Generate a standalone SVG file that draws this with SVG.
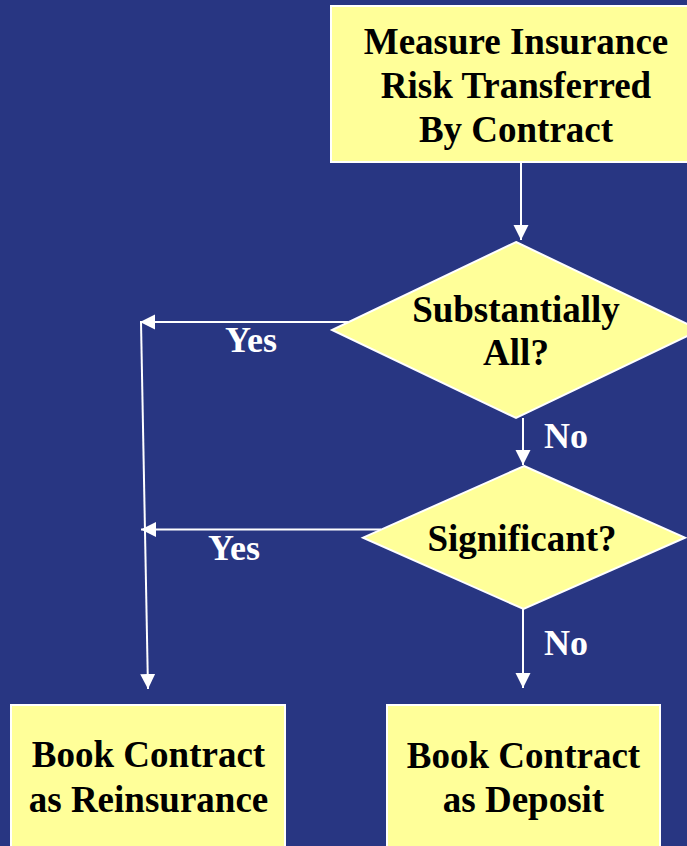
<svg xmlns="http://www.w3.org/2000/svg" width="687" height="846" viewBox="0 0 687 846">
  <style>
    .node { fill: #FFFF99; stroke: #FFFFFF; stroke-width: 2; }
    .ntext { font-family: "Liberation Serif", "Times New Roman", serif; font-weight: bold; font-size: 37px; fill: #000000; text-anchor: middle; }
    .label { font-family: "Liberation Serif", "Times New Roman", serif; font-weight: bold; font-size: 36px; fill: #FFFFFF; }
    .conn { stroke: #FFFFFF; stroke-width: 2; fill: none; marker-end: url(#arrow); }
  </style>
  <defs>
    <marker id="arrow" markerUnits="userSpaceOnUse" markerWidth="16" markerHeight="16" refX="15" refY="7.5" orient="auto">
      <path d="M0,0 L15,7.5 L0,15 z" fill="#FFFFFF"/>
    </marker>
  </defs>
  <rect x="0" y="0" width="687" height="846" fill="#283682"/>

  <g id="connectors">
    <path class="conn" d="M521,162 L521,240"/>
    <path class="conn" d="M348,322 L140,322"/>
    <path class="conn" d="M523,418 L523,465"/>
    <path class="conn" d="M381,529.5 L141,529.5"/>
    <path class="conn" d="M141,322 L148,689"/>
    <path class="conn" d="M523,609 L523,688"/>
    <text class="label" x="225" y="352">Yes</text>
    <text class="label" x="544" y="448">No</text>
    <text class="label" x="208" y="560">Yes</text>
    <text class="label" x="544" y="655">No</text>
  </g>

  <g id="measure">
    <rect class="node" x="331" y="6" width="372" height="156"/>
    <text class="ntext" x="516" y="54">Measure Insurance</text>
    <text class="ntext" x="516" y="98">Risk Transferred</text>
    <text class="ntext" x="516" y="142">By Contract</text>
  </g>

  <g id="substantially">
    <polygon class="node" points="516,242 700,330 516,418 332,330"/>
    <text class="ntext" x="516" y="322">Substantially</text>
    <text class="ntext" x="516" y="365">All?</text>
  </g>

  <g id="significant">
    <polygon class="node" points="524,466 685,537.7 523.5,609 363,537.7"/>
    <text class="ntext" x="522" y="551">Significant?</text>
  </g>

  <g id="reinsurance">
    <rect class="node" x="11" y="705" width="274" height="150"/>
    <text class="ntext" x="148.5" y="767">Book Contract</text>
    <text class="ntext" x="148.5" y="812">as Reinsurance</text>
  </g>

  <g id="deposit">
    <rect class="node" x="387" y="705" width="273" height="150"/>
    <text class="ntext" x="523.5" y="768">Book Contract</text>
    <text class="ntext" x="523.5" y="812">as Deposit</text>
  </g>
</svg>
